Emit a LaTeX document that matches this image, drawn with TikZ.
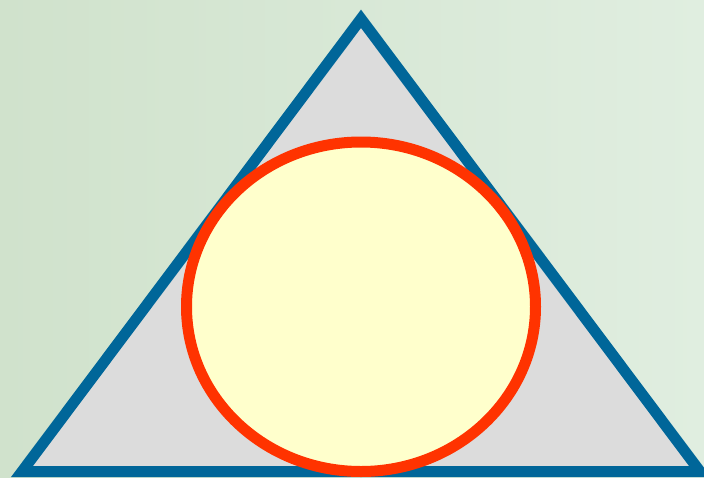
\documentclass[tikz,border=0pt]{standalone}
\usepackage{tikz}
\usetikzlibrary{positioning}

\definecolor{bgleft}{HTML}{D0E2CC}
\definecolor{bgright}{HTML}{E0EEE0}
\definecolor{triblue}{HTML}{006699}
\definecolor{trigray}{HTML}{DCDCDC}
\definecolor{circred}{HTML}{FF3300}
\definecolor{circfill}{HTML}{FFFFCC}

\begin{document}
\begin{tikzpicture}[
    x=1pt, y=-1pt,
    tri/.style={
        draw=triblue,
        fill=trigray,
        line width=11pt,
        line join=miter
    },
    disc/.style={
        draw=circred,
        fill=circfill,
        line width=11pt
    }
]

% background
\useasboundingbox (0,0) rectangle (704,477);
\shade[left color=bgleft, right color=bgright] (0,0) rectangle (704,477);

% triangle
\coordinate (apex) at (361,18.8);
\coordinate (bl) at (22,471.5);
\coordinate (br) at (700,471.5);
\draw[tri] (apex) -- (bl) -- (br) -- cycle;

% inscribed ellipse
\coordinate (mid) at (361,306.75);
\draw[disc] (mid) ellipse [x radius=174.5, y radius=164.75];

\end{tikzpicture}
\end{document}
